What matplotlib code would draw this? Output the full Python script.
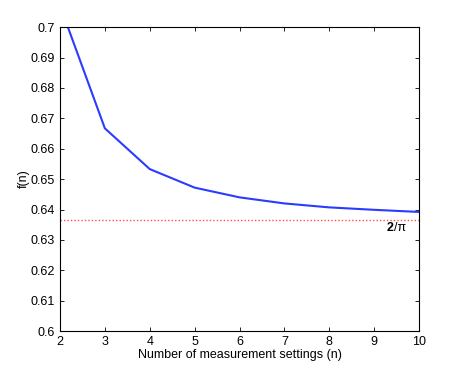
import numpy as np
import matplotlib
matplotlib.use("Agg")
import matplotlib.pyplot as plt

plt.rcParams['font.family'] = ['Liberation Sans', 'DejaVu Sans']

# values
n_settings = [2, 3, 4, 5, 6, 7, 8, 9, 10]
f_values = [0.7071, 0.6667, 0.6533, 0.6472, 0.6440, 0.6420, 0.6407, 0.6399, 0.6392]
limit_value = 0.6366  # 2/pi
x_ticks = [2, 3, 4, 5, 6, 7, 8, 9, 10]
y_ticks = [0.6, 0.61, 0.62, 0.63, 0.64, 0.65, 0.66, 0.67, 0.68, 0.69, 0.7]

fig = plt.figure(figsize=(4.63, 3.72), dpi=100)
ax = fig.add_axes([0.1296, 0.110, 0.7754, 0.817])

ax.plot(n_settings, f_values, color='#2b3bff', linewidth=1.5)
ax.plot([n_settings[0], n_settings[-1]], [limit_value, limit_value],
        color='#ff5050', linestyle=(0, (1, 1.5)), linewidth=1.0)
ax.text(9.28, 0.6339, '2', fontsize=9, fontweight='bold', ha='left', va='center')
ax.text(9.44, 0.6339, '/π', fontsize=9, ha='left', va='center')

ax.set_xlim(2, 10)
ax.set_ylim(0.6, 0.7)
ax.set_xticks(x_ticks)
ax.set_yticks(y_ticks)
ax.set_yticklabels([f'{v:g}' for v in y_ticks])
ax.tick_params(direction='in', top=True, right=True, labelsize=9, length=3, width=0.6)
for s in ax.spines.values():
    s.set_linewidth(0.8)
ax.set_xlabel('Number of measurement settings (n)', fontsize=9, labelpad=1)
ax.set_ylabel('f(n)', fontsize=9, labelpad=1)

fig.savefig('out.png', dpi=100)
